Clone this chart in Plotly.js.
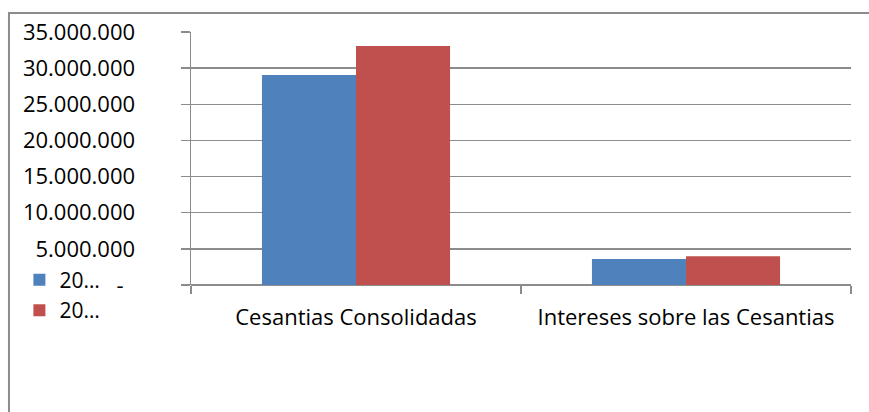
<!DOCTYPE html>
<html>
<head>
<meta charset="utf-8">
<script src="https://cdn.plot.ly/plotly-3.0.1.min.js"></script>
<style>
html,body{margin:0;padding:0;background:#fff;overflow:hidden;}
#chart{width:869px;height:412px;}
</style>
</head>
<body>
<div id="chart"></div>
<script>
var categories = ['Cesantias Consolidadas', 'Intereses sobre las Cesantias'];
var seriesNames = ['20…', '20…'];
var serie1 = [29050000, 3600000];
var serie2 = [33050000, 3970000];
var tickValues = [0, 5000000, 10000000, 15000000, 20000000, 25000000, 30000000, 35000000];
var tickLabels = ['-\u00a0\u00a0', '5.000.000', '10.000.000', '15.000.000', '20.000.000', '25.000.000', '30.000.000', '35.000.000'];

var font = 'Open Sans, sans-serif';
var gray = '#8c8c8c';

var data = [
  {type: 'bar', name: seriesNames[0], x: categories, y: serie1, marker: {color: '#4F81BD'}},
  {type: 'bar', name: seriesNames[1], x: categories, y: serie2, marker: {color: '#C0504D'}}
];

var layout = {
  width: 869, height: 412,
  margin: {l: 191, r: 18, t: 32, b: 127},
  paper_bgcolor: '#fff', plot_bgcolor: '#fff',
  font: {family: font, size: 22, color: '#000'},
  barmode: 'group', bargap: 0.43, bargroupgap: 0,
  showlegend: true,
  legend: {x: -0.26, y: 0.1, xanchor: 'left', yanchor: 'top', bgcolor: 'rgba(0,0,0,0)',
           font: {family: font, size: 21, color: '#000'}, tracegroupgap: 0, traceorder: 'normal'},
  xaxis: {
    type: 'category', showgrid: false, zeroline: false, showline: false,
    ticks: 'outside', tickson: 'boundaries', ticklen: 8, tickcolor: gray, tickwidth: 1.5,
    tickfont: {family: font, size: 22, color: '#000'}, ticklabelstandoff: 17
  },
  yaxis: {
    range: [0, 35000000], tickmode: 'array', tickvals: tickValues, ticktext: tickLabels,
    showgrid: true, gridcolor: gray, gridwidth: 1.3,
    showline: true, linecolor: gray, linewidth: 1.5,
    zeroline: true, zerolinecolor: gray, zerolinewidth: 1.5,
    ticks: 'outside', ticklen: 9, tickcolor: gray, tickwidth: 1.3,
    tickfont: {family: font, size: 22, color: '#000'}, ticklabelstandoff: 41
  },
  shapes: [{
    type: 'rect', xref: 'paper', yref: 'paper',
    x0: -0.2758, x1: 1.05, y0: -0.55, y1: 1.0751,
    line: {color: gray, width: 2}, fillcolor: 'rgba(0,0,0,0)', layer: 'below'
  }]
};

Plotly.newPlot('chart', data, layout, {displayModeBar: false, staticPlot: true});
</script>
</body>
</html>
